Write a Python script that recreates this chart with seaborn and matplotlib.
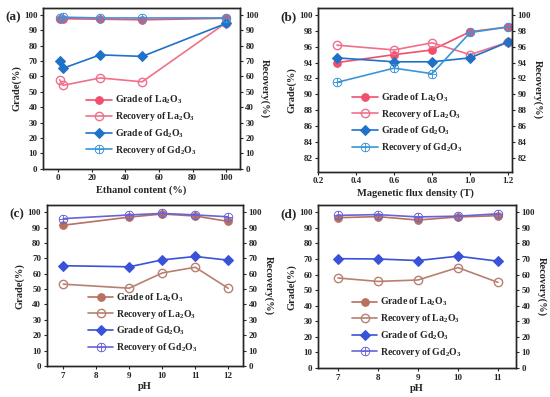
import matplotlib
matplotlib.use("Agg")
import matplotlib.pyplot as plt
import seaborn as sns
import pandas as pd

# --- DATA ---
ethanol = [1, 3, 25, 50, 100]
a_grade_la = [97.0, 97.5, 97.2, 96.8, 97.8]
a_rec_la = [57.8, 54.2, 59.0, 56.5, 95.0]
a_grade_gd = [70.2, 65.3, 74.0, 73.0, 94.5]
a_rec_gd = [98.0, 98.5, 98.0, 98.0, 98.0]

flux = [0.3, 0.6, 0.8, 1.0, 1.2]
b_grade_la = [94.0, 95.0, 95.6, 97.9, 98.5]
b_rec_la = [96.2, 95.6, 96.5, 95.0, 96.6]
b_grade_gd = [94.6, 94.1, 94.1, 94.6, 96.6]
b_rec_gd = [91.5, 93.3, 92.6, 97.8, 98.5]

ph_c = [7, 9, 10, 11, 12]
c_grade_la = [91.5, 96.8, 98.8, 97.5, 94.0]
c_rec_la = [53.2, 50.6, 60.5, 64.2, 50.5]
c_grade_gd = [65.2, 64.5, 69.0, 71.2, 68.8]
c_rec_gd = [95.8, 98.2, 99.2, 98.2, 97.0]

ph_d = [7, 8, 9, 10, 11]
d_grade_la = [96.5, 97.2, 95.0, 97.0, 97.8]
d_rec_la = [57.8, 55.6, 56.5, 64.5, 55.0]
d_grade_gd = [70.2, 70.0, 69.0, 71.8, 68.6]
d_rec_gd = [98.0, 98.5, 97.0, 97.5, 99.0]

LABELS = ["Grade of La$_2$O$_3$", "Recovery of La$_2$O$_3$",
          "Grade of Gd$_2$O$_3$", "Recovery of Gd$_2$O$_3$"]

sns.set_style("ticks")
plt.rcParams['font.family'] = ['Liberation Serif', 'DejaVu Serif']
plt.rcParams['font.weight'] = 'bold'
plt.rcParams['axes.labelweight'] = 'bold'
plt.rcParams['mathtext.fontset'] = 'custom'
plt.rcParams['mathtext.rm'] = 'Liberation Serif:bold'
plt.rcParams['mathtext.bf'] = 'Liberation Serif:bold'
plt.rcParams['mathtext.default'] = 'bf'
plt.rcParams['axes.linewidth'] = 1.0


def panel(fig, rect, x, series, colors, xlabel, xlim, ylim, yticks, xticks, tag, leg_center):
    ax = fig.add_axes(rect)
    markers = ['o', 'o', 'D', '$\\oplus$']
    fills = [True, False, True, False]
    sizes = [5.5, 6, 5, 6.5]
    for y, lab, col, mk, fill, ms in zip(series, LABELS, colors, markers, fills, sizes):
        df = pd.DataFrame({'x': x, 'y': y})
        kw = dict(marker=mk, markersize=ms, color=col, linewidth=1.2, label=lab,
                  markeredgecolor=col)
        if mk == 'o' and not fill:
            kw['markerfacecolor'] = 'none'
            kw['markeredgewidth'] = 1.0
        elif mk == 'o' or mk == 'D':
            kw['markerfacecolor'] = col
        else:
            kw['markeredgewidth'] = 0.3
        sns.lineplot(data=df, x='x', y='y', ax=ax, **kw)
    ax.set_xlim(*xlim)
    ax.set_ylim(*ylim)
    ax.set_xticks(xticks)
    ax.set_yticks(yticks)
    ax.set_xlabel(xlabel, fontsize=7.5, labelpad=2)
    ax.set_ylabel("Grade(%)", fontsize=7.5, labelpad=2)
    ax.tick_params(labelsize=6.5, length=2.5, width=0.8, pad=1.5)
    for t in ax.get_xticklabels() + ax.get_yticklabels():
        t.set_fontweight('bold')
    ax2 = ax.twinx()
    ax2.set_ylim(*ylim)
    ax2.set_yticks(yticks)
    ax2.set_ylabel("Recovery(%)", fontsize=7.5, rotation=270, labelpad=8)
    ax2.tick_params(labelsize=6.5, length=2.5, width=0.8, pad=1.5)
    for t in ax2.get_yticklabels():
        t.set_fontweight('bold')
    leg = ax.legend(loc='center', bbox_to_anchor=leg_center, frameon=False,
                    fontsize=7, handlelength=2.6, labelspacing=0.4,
                    handletextpad=0.3, borderaxespad=0)
    for t in leg.get_texts():
        t.set_fontweight('bold')
    fig.text(rect[0] - 0.068, rect[1] + rect[3] - 0.03, tag, fontsize=9.5, fontweight='bold')
    return ax


fig = plt.figure(figsize=(5.5, 3.97), dpi=100)
red = ['#f0506e', '#f0708a', '#1f72c8', '#3a96d8']
brown = ['#b8705f', '#b88070', '#3a52d8', '#6a62d8']
pct = list(range(0, 101, 10))

panel(fig, [0.078, 0.575, 0.358, 0.405], ethanol,
      [a_grade_la, a_rec_la, a_grade_gd, a_rec_gd], red,
      "Ethanol content (%)", (-9, 108), (0, 104.5), pct,
      [0, 20, 40, 60, 80, 100], "(a)", (0.5, 0.27))
panel(fig, [0.578, 0.567, 0.353, 0.413], flux,
      [b_grade_la, b_rec_la, b_grade_gd, b_rec_gd], red,
      "Magenetic flux density (T)", (0.2, 1.22), (80.2, 100.9),
      list(range(82, 101, 2)), [0.2, 0.4, 0.6, 0.8, 1.0, 1.2], "(b)", (0.46, 0.3))
panel(fig, [0.085, 0.078, 0.357, 0.405], ph_c,
      [c_grade_la, c_rec_la, c_grade_gd, c_rec_gd], brown,
      "pH", (6.5, 12.45), (0, 104.5), pct, [7, 8, 9, 10, 11, 12], "(c)", (0.49, 0.27))
panel(fig, [0.578, 0.073, 0.36, 0.41], ph_d,
      [d_grade_la, d_rec_la, d_grade_gd, d_rec_gd], brown,
      "pH", (6.5, 11.45), (0, 104.5), pct, [7, 8, 9, 10, 11], "(d)", (0.45, 0.25))

fig.savefig("out.png", dpi=100)
